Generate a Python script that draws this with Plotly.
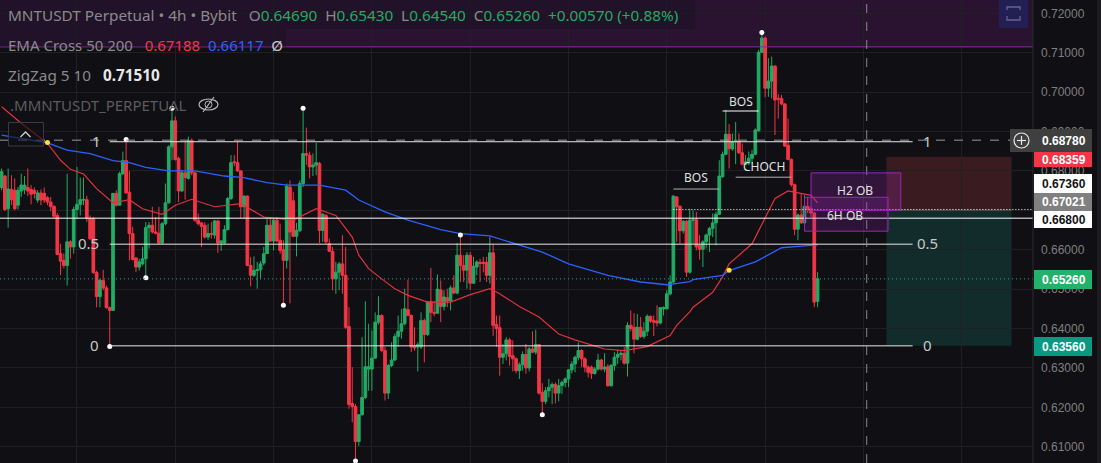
import plotly.graph_objects as go

opens = [
.6758,.6787,.6704,.6753,.6751,.6713,.6749,.6753,.6758,.6753,.6751,.6726,.6744,.6743,.6732,.6721,.6710,.6687,.6590,.6573,
.6560,.6620,.6607,.6702,.6715,.6726,.6727,.6679,.6679,.6542,.6481,.6522,.6503,.6453,.6446,.6743,.6713,.6793,.6826,.6746,
.6641,.6579,.6556,.6564,.6577,.6656,.6662,.6645,.6642,.6617,.6666,.6719,.6861,.6927,.6832,.6749,.6795,.6781,.6878,.6795,
.6675,.6668,.6662,.6632,.6641,.6637,.6673,.6617,.6617,.6651,.6730,.6823,.6821,.6800,.6709,.6736,.6560,.6535,.6547,.6549,
.6566,.6590,.6662,.6622,.6675,.6624,.6600,.6573,.6759,.6724,.6634,.6648,.6768,.6844,.6840,.6810,.6815,.6819,.6649,.6687,
.6615,.6596,.6526,.6543,.6564,.6535,
.6405,.6210,.6202,.6113,.6181,.6225,.6297,.6297,.6325,.6416,.6433,.6344,.6236,.6306,.6320,.6380,.6393,.6412,.6448,.6433,
.6356,.6353,.6353,.6420,.6385,.6468,.6441,.6439,.6498,.6456,.6478,.6470,.6503,.6490,.6586,.6560,.6548,.6586,.6515,.6556,
.6568,.6568,.6568,.6535,.6592,.6410,.6402,.6327,.6336,.6371,.6331,.6323,.6293,.6308,.6334,.6300,.6348,.6340,.6359,.6238,
.6215,.6242,.6251,.6258,.6236,.6255,.6263,.6272,.6295,.6310,.6327,.6344,.6323,.6302,.6302,.6286,.6297,.6320,.6297,.6303,
.6255,.6306,.6327,.6334,.6337,.6312,.6408,.6403,.6373,.6403,.6380,.6393,.6431,.6420,.6419,.6414,.6450,.6450,.6488,.6518,
.6734,.6710,.6648,.6672,.6543,.6675,.6676,.6611,.6601,.6620,.6637,.6654,.6668,.6690,.6785,.6842,.6893,.6856,.6874,.6874,
.6846,.6817,.6823,.6832,.6842,.6902,.7101,.7137,.7010,.7028,.7066,.6984,.6984,.6970,.6865,.6829,.6765,.6652,.6688,.6668,
.6710,.6704,.6693,.6469]
closes = [
.6798,.6702,.6754,.6727,.6704,.6751,.6764,.6764,.6749,.6741,.6743,.6744,.6726,.6726,.6721,.6709,.6685,.6588,.6571,.6560,
.6620,.6607,.6702,.6715,.6727,.6727,.6679,.6628,.6542,.6481,.6522,.6503,.6453,.6446,.6743,.6713,.6793,.6826,.6744,.6641,
.6575,.6556,.6569,.6577,.6656,.6662,.6645,.6642,.6617,.6666,.6719,.6861,.6927,.6829,.6749,.6795,.6783,.6877,.6795,.6675,
.6666,.6659,.6632,.6641,.6639,.6673,.6617,.6622,.6651,.6730,.6821,.6821,.6800,.6709,.6736,.6560,.6535,.6547,.6549,.6564,
.6590,.6662,.6622,.6675,.6622,.6598,.6573,.6761,.6645,.6634,.6649,.6768,.6844,.6840,.6810,.6815,.6821,.6649,.6690,.6620,
.6596,.6526,.6543,.6564,.6535,.6403,
.6207,.6202,.6113,.6181,.6225,.6303,.6303,.6325,.6416,.6433,.6344,.6236,.6306,.6320,.6380,.6393,.6412,.6450,.6433,.6353,
.6351,.6359,.6420,.6385,.6468,.6441,.6439,.6500,.6456,.6480,.6470,.6503,.6490,.6586,.6560,.6548,.6586,.6515,.6558,.6569,
.6565,.6565,.6535,.6592,.6408,.6400,.6327,.6336,.6371,.6329,.6323,.6293,.6308,.6334,.6300,.6348,.6340,.6359,.6236,.6215,
.6242,.6251,.6258,.6236,.6255,.6263,.6272,.6295,.6310,.6327,.6344,.6323,.6302,.6289,.6286,.6297,.6320,.6297,.6302,.6255,
.6306,.6327,.6334,.6337,.6312,.6408,.6400,.6373,.6403,.6380,.6393,.6431,.6419,.6416,.6414,.6453,.6453,.6488,.6518,.6736,
.6709,.6648,.6672,.6543,.6675,.6676,.6607,.6601,.6620,.6637,.6654,.6668,.6690,.6787,.6842,.6893,.6856,.6874,.6878,.6846,
.6817,.6823,.6832,.6842,.6904,.7101,.7137,.7010,.7028,.7066,.6980,.6982,.6970,.6863,.6829,.6765,.6652,.6688,.6668,.6710,
.6704,.6693,.6467,.6526]
highs = [
.6806,.6789,.6806,.6789,.6781,.6759,.6793,.6787,.6806,.6764,.6758,.6751,.6753,.6758,.6736,.6734,.6713,.6693,.6615,.6590,
.6793,.6624,.6709,.6810,.6783,.6783,.6737,.6687,.6683,.6547,.6526,.6549,.6509,.6456,.6744,.6751,.6798,.6849,.6880,.6800,
.6658,.6581,.6577,.6607,.6670,.6670,.6709,.6683,.6709,.6670,.6768,.6865,.6959,.6938,.6836,.6802,.6874,.6887,.6882,.6798,
.6692,.6670,.6670,.6666,.6670,.6676,.6676,.6625,.6662,.6734,.6840,.6840,.6874,.6802,.6738,.6738,.6581,.6583,.6569,.6571,
.6607,.6679,.6679,.6679,.6683,.6666,.6624,.6768,.6776,.6747,.6668,.6776,.6959,.6910,.6849,.6844,.6871,.6823,.6693,.6690,
.6628,.6607,.6569,.6569,.6637,.6607,
.6454,.6302,.6208,.6183,.6378,.6469,.6412,.6395,.6441,.6482,.6436,.6353,.6310,.6365,.6387,.6433,.6450,.6501,.6524,.6436,
.6403,.6365,.6441,.6425,.6470,.6554,.6470,.6537,.6522,.6497,.6501,.6509,.6535,.6617,.6637,.6586,.6594,.6594,.6582,.6573,
.6577,.6582,.6582,.6632,.6615,.6433,.6433,.6361,.6378,.6376,.6370,.6327,.6314,.6342,.6361,.6353,.6393,.6397,.6361,.6261,
.6251,.6272,.6263,.6263,.6272,.6268,.6276,.6297,.6317,.6331,.6365,.6348,.6327,.6306,.6306,.6302,.6336,.6323,.6337,.6310,
.6310,.6340,.6346,.6344,.6353,.6416,.6446,.6439,.6437,.6429,.6416,.6436,.6433,.6433,.6459,.6454,.6456,.6497,.6535,.6738,
.6736,.6713,.6675,.6675,.6704,.6700,.6696,.6637,.6624,.6641,.6658,.6692,.6696,.6827,.6849,.6955,.6919,.6895,.6924,.6895,
.6870,.6840,.6849,.6853,.6908,.7107,.7151,.7141,.7086,.7090,.7069,.6995,.6993,.6972,.6933,.6832,.6768,.6692,.6743,.6738,
.6734,.6709,.6696,.6543]
lows = [
.6751,.6698,.6656,.6713,.6700,.6702,.6734,.6741,.6736,.6715,.6730,.6719,.6713,.6719,.6713,.6698,.6681,.6586,.6535,.6552,
.6509,.6577,.6590,.6679,.6687,.6713,.6670,.6624,.6539,.6454,.6454,.6497,.6450,.6354,.6446,.6709,.6713,.6789,.6743,.6573,
.6573,.6543,.6547,.6560,.6529,.6603,.6641,.6639,.6614,.6614,.6662,.6717,.6827,.6826,.6721,.6747,.6727,.6778,.6789,.6670,
.6662,.6607,.6628,.6625,.6628,.6628,.6592,.6597,.6614,.6649,.6726,.6812,.6798,.6679,.6679,.6558,.6507,.6531,.6501,.6526,
.6560,.6590,.6620,.6598,.6620,.6590,.6459,.6552,.6464,.6632,.6583,.6645,.6759,.6815,.6781,.6787,.6789,.6617,.6620,.6615,
.6594,.6497,.6488,.6497,.6488,.6399,
.6196,.6162,.6064,.6102,.6179,.6221,.6242,.6242,.6323,.6410,.6340,.6217,.6221,.6302,.6317,.6353,.6374,.6408,.6431,.6340,
.6344,.6291,.6348,.6314,.6381,.6416,.6431,.6437,.6416,.6446,.6454,.6446,.6487,.6487,.6518,.6518,.6501,.6498,.6514,.6535,
.6518,.6543,.6518,.6514,.6381,.6353,.6280,.6310,.6319,.6306,.6291,.6286,.6272,.6293,.6285,.6291,.6337,.6334,.6232,.6181,
.6208,.6225,.6208,.6210,.6215,.6234,.6251,.6251,.6286,.6289,.6319,.6302,.6289,.6276,.6272,.6283,.6293,.6293,.6289,.6252,
.6252,.6293,.6310,.6319,.6308,.6278,.6393,.6337,.6370,.6376,.6374,.6381,.6414,.6381,.6405,.6410,.6433,.6448,.6484,.6514,
.6620,.6615,.6641,.6531,.6539,.6614,.6598,.6575,.6556,.6603,.6594,.6632,.6611,.6688,.6783,.6840,.6806,.6851,.6817,.6843,
.6814,.6815,.6815,.6819,.6840,.6899,.7099,.6987,.6988,.6984,.6891,.6933,.6967,.6861,.6827,.6760,.6637,.6624,.6666,.6666,
.6693,.6683,.6454,.6454]
assert len(opens) == len(closes) == len(highs) == len(lows) == 250, (len(opens), len(closes), len(highs), len(lows))
candle_index = list(range(len(opens)))

ema50_index = [0,6,14,18,21,25,29,34,39,43,49,53,58,65,73,80,89,96,102,107,109,112,116,120,124,130,137,143,149,152,158,164,170,175,184,190,197,204,206,210,211,217,220,222,229,231,233,236,240,244,247,249]
ema50_price = [.6963,.6921,.6870,.6827,.6804,.6792,.6755,.6719,.6727,.6704,.6690,.6713,.6728,.6709,.6717,.6683,.6675,.6704,.6687,.6632,.6586,.6552,.6526,.6501,.6484,.6467,.6467,.6486,.6501,.6488,.6456,.6429,.6386,.6371,.6348,.6344,.6354,.6382,.6408,.6442,.6454,.6492,.6531,.6564,.6615,.6649,.6683,.6730,.6749,.6743,.6738,.6719]
ema200_index = [0,6,14,20,27,34,39,44,51,59,68,74,81,87,97,105,107,109,117,124,134,140,149,156,165,173,185,195,203,210,211,220,222,230,238,244,249]
ema200_price = [.6891,.6882,.6871,.6853,.6844,.6826,.6821,.6809,.6800,.6800,.6787,.6783,.6770,.6764,.6764,.6751,.6738,.6726,.6696,.6675,.6651,.6641,.6635,.6617,.6594,.6564,.6535,.6518,.6511,.6519,.6524,.6535,.6547,.6569,.6605,.6609,.6612]
cross_index = [14, 222]
cross_price = [.6872, .6548]
zigzag_index = [33,38,44,52,86,92,108,140,165,232]
zigzag_price = [.6354,.6880,.6529,.6959,.6459,.6959,.6064,.6637,.6181,.7151]

tick_prices = [.72,.71,.70,.69,.68,.67,.66,.65,.64,.63,.62,.61]
tick_labels = [f"{p:.5f}" for p in tick_prices]
grid_index = [23,53,83,113,143,173,203,233,263,293]

W, H, PLOT_W = 1101, 463, 1033
X_PER = 3.277
X0 = 1.6
PY_PER = 3940.0
PY0 = 13.3
BG = "#0f0f14"
UP = "#22ab64"
DOWN = "#f23645"

def px(x): return x / PLOT_W
def py(y): return 1 - y / H

fig = go.Figure()
fig.add_trace(go.Candlestick(x=candle_index, open=opens, high=highs, low=lows, close=closes,
    increasing=dict(line=dict(color=UP, width=1), fillcolor=UP),
    decreasing=dict(line=dict(color=DOWN, width=1), fillcolor=DOWN),
    whiskerwidth=0, hoverinfo="skip", showlegend=False))
fig.add_trace(go.Scatter(x=ema50_index, y=ema50_price, mode="lines", line=dict(color="#e0323f", width=1.2), hoverinfo="skip", showlegend=False))
fig.add_trace(go.Scatter(x=ema200_index, y=ema200_price, mode="lines", line=dict(color="#2962ff", width=1.3), hoverinfo="skip", showlegend=False))
fig.add_trace(go.Scatter(x=cross_index, y=cross_price, mode="markers", marker=dict(color="#ffe033", size=5), hoverinfo="skip", showlegend=False))
fig.add_trace(go.Scatter(x=zigzag_index, y=zigzag_price, mode="markers", marker=dict(color="#ffffff", size=5), hoverinfo="skip", showlegend=False))

shapes = []
def rect(x0, x1, y0, y1, fill, line=None, lw=1, layer="above", xref="x", yref="y"):
    shapes.append(dict(type="rect", x0=x0, x1=x1, y0=y0, y1=y1, xref=xref, yref=yref, layer=layer,
                       fillcolor=fill, line=dict(color=line or "rgba(0,0,0,0)", width=lw if line else 0)))
def hline(x0, x1, y, color="#ffffff", lw=1, dash="solid", xref="x"):
    shapes.append(dict(type="line", x0=x0, x1=x1, y0=y, y1=y, xref=xref, yref="y", line=dict(color=color, width=lw, dash=dash)))

# top zone and position tool
rect(0, 1, .71148, .7234, "rgba(156,39,176,0.19)", xref="paper", layer="below")
hline(0, 1, .71148, "#8e2a9e", 1, xref="paper")
rect(270, 308.2, .6700, .68359, "#3a1b20", layer="below")
rect(270, 308.2, .6356, .6700, "#122c2b", layer="below")
hline(270, 308.2, .6700, "#4d5a58", 1)

# levels
hline(0, 1, .6878, "#9a9a9a", 1, "dash", xref="paper")
hline(33, 278, .6874, "#e8e8e8", 1)
hline(33, 278, .6614, "#e8e8e8", 1)
hline(33, 278, .6356, "#e8e8e8", 1)
hline(0, 1, .6680, "#ffffff", 1, xref="paper")
hline(205, 314.7, .67021, "#ffffff", 1, "1px,2px")
hline(0, 1, .6526, "#22ab94", 1, "1px,3px", xref="paper")
shapes.append(dict(type="line", x0=264, x1=264, y0=0, y1=1, xref="x", yref="paper", line=dict(color="#8a8a8a", width=1, dash="dash")))

# structure lines
hline(205, 219, .6754, "#b0b0b0", 1)
hline(220, 231, .6952, "#ffffff", 1)
hline(224, 241, .6784, "#b0b0b0", 1)

# order blocks
rect(245, 270.5, .6647, .6733, "rgba(156,39,176,0.22)", "#9c27b0", 1)
rect(247, 274.4, .6700, .6795, "rgba(156,39,176,0.25)", "#9c27b0", 1)

# legend backdrops
rect(px(0), px(695), py(29), py(0), "rgba(15,15,20,0.25)", xref="paper", yref="paper")
rect(px(0), px(286), py(47), py(29), "rgba(15,15,20,0.25)", xref="paper", yref="paper")

# right axis line and right edge
shapes.append(dict(type="line", x0=1, x1=1, y0=0, y1=1, xref="paper", yref="paper", line=dict(color="#2a2a2e", width=1)))
rect(px(1097), px(1101), 0, 1, "#1c1c20", xref="paper", yref="paper")

# UI widgets
shapes.append(dict(type="rect", x0=px(8.5), x1=px(43.5), y0=py(146), y1=py(122.5), xref="paper", yref="paper",
                   fillcolor="rgba(15,15,20,0.6)", line=dict(color="#3a3a3e", width=1)))
shapes.append(dict(type="path", xref="paper", yref="paper", line=dict(color="#d0d0d0", width=1.3),
                   path=f"M {px(20.5)} {py(137)} L {px(25.5)} {py(132)} L {px(30.5)} {py(137)}"))
rect(px(999), px(1028), py(28), py(0), "#221f55", xref="paper", yref="paper")
shapes.append(dict(type="path", xref="paper", yref="paper", line=dict(color="#6a6390", width=1.3),
                   path=f"M {px(1007)} {py(10)} L {px(1007)} {py(7)} L {px(1020)} {py(7)} L {px(1020)} {py(10)} M {px(1007)} {py(16)} L {px(1007)} {py(20)} L {px(1020)} {py(20)} L {px(1020)} {py(16)}"))
# eye
shapes.append(dict(type="circle", x0=px(199), x1=px(218), y0=py(110), y1=py(99), xref="paper", yref="paper", line=dict(color="#b8b8b8", width=1.2)))
shapes.append(dict(type="circle", x0=px(205), x1=px(212), y0=py(108), y1=py(101), xref="paper", yref="paper", line=dict(color="#b8b8b8", width=1)))
shapes.append(dict(type="line", x0=px(203), x1=px(214), y0=py(112), y1=py(97), xref="paper", yref="paper", line=dict(color="#b8b8b8", width=1.2)))

# price tags
tags = [("0.68780", 129, 152, "#3f3f3f", "#ffffff"), ("0.68359", 152, 167, DOWN, "#ffffff"),
        ("0.67360", 174, 193, "#ffffff", "#131313"), ("0.67021", 193, 211, "#808080", "#ffffff"),
        ("0.66800", 211, 228, "#ffffff", "#131313"), ("0.65260", 270, 289, "#22b26c", "#ffffff"),
        ("0.63560", 337, 356, "#089981", "#ffffff")]
rect(px(1010), px(1034), py(152), py(129), "#3f3f3f", xref="paper", yref="paper")
shapes.append(dict(type="circle", x0=px(1014), x1=px(1029), y0=py(148), y1=py(133), xref="paper", yref="paper", line=dict(color="#e8e8e8", width=1.2)))
shapes.append(dict(type="line", x0=px(1017), x1=px(1026), y0=py(140.5), y1=py(140.5), xref="paper", yref="paper", line=dict(color="#e8e8e8", width=1.2)))
shapes.append(dict(type="line", x0=px(1021.5), x1=px(1021.5), y0=py(136), y1=py(145), xref="paper", yref="paper", line=dict(color="#e8e8e8", width=1.2)))
for _, y0, y1, c, _t in tags:
    rect(px(1034), px(1092), py(y1), py(y0), c, xref="paper", yref="paper")

annotations = []
def label(x, y, text, color="#d8d8d8", size=12, xref="x", yref="y", anchor="center", family="Noto Sans"):
    annotations.append(dict(x=x, y=y, xref=xref, yref=yref, text=text, showarrow=False, xanchor=anchor, yanchor="middle",
                            font=dict(color=color, size=size, family=family)))

for xi, t in [(29, "1"), (26.5, "0.5"), (28.2, "0"), (282.6, "1"), (282.6, "0.5"), (282.6, "0")]:
    yv = {"1": .6876, "0.5": .6616, "0": .6357}[t]
    label(xi, yv, t, "#c8c8c8", 15)
label(212, .6782, "BOS", "#e0e0e0", 12)
label(225.6, .6977, "BOS", "#e0e0e0", 12)
label(232.6, .6810, "CHOCH", "#e0e0e0", 12)
label(260.4, .6749, "H2 OB", "#e0e0e0", 12)
label(257.3, .6686, "6H OB", "#e0e0e0", 12)

G = "#22ab64"
NB = "&nbsp;"
label(px(6), py(15), f'MNTUSDT Perpetual • 4h • Bybit{NB}{NB}{NB}O<span style="color:{G}">0.64690</span>{NB}{NB}H<span style="color:{G}">0.65430</span>{NB}{NB}L<span style="color:{G}">0.64540</span>{NB}{NB}C<span style="color:{G}">0.65260</span>{NB}{NB}<span style="color:{G}">+0.00570 (+0.88%)</span>',
      "#8a8a8a", 15.3, "paper", "paper", "left")
label(px(6), py(45), f'EMA Cross 50 200{NB}{NB}{NB}<span style="color:#f23645">0.67188</span>{NB}{NB}<span style="color:#2962ff">0.66117</span>{NB}{NB}<span style="color:#c8c8c8">Ø</span>', "#8a8a8a", 15, "paper", "paper", "left")
label(px(6), py(75), f'ZigZag 5 10{NB}{NB}{NB}<span style="color:#e8e8e8"><b>0.71510</b></span>', "#8a8a8a", 15.3, "paper", "paper", "left")
label(px(8), py(105), '.MMNTUSDT_PERPETUAL', "#5c5c5c", 15, "paper", "paper", "left")
for t, y0, y1, c, tc in tags:
    label(px(1064), py((y0 + y1) / 2), f"<b>{t}</b>", tc, 12, "paper", "paper", "center", "Liberation Sans")

fig.update_layout(
    width=W, height=H, margin=dict(l=0, r=W - PLOT_W, t=0, b=0), boxgap=0.18, boxgroupgap=0,
    paper_bgcolor=BG, plot_bgcolor=BG, showlegend=False, shapes=shapes, annotations=annotations,
    xaxis=dict(range=[-X0 / X_PER, (PLOT_W - X0) / X_PER], rangeslider=dict(visible=False), showticklabels=False,
               tickvals=grid_index, showgrid=True, gridcolor="#1f1f24", gridwidth=1, zeroline=False, ticks=""),
    yaxis=dict(range=[.72 - (H - PY0) / PY_PER, .72 + PY0 / PY_PER], side="right", tickvals=tick_prices, ticktext=tick_labels,
               showgrid=True, gridcolor="#1f1f24", gridwidth=1, zeroline=False, ticks="", ticklabelstandoff=7,
               tickfont=dict(color="#7f7f7f", size=12, family="Liberation Sans")),
)
fig.write_html("out.html", post_script="document.body.style.margin='0';document.body.style.background='#0f0f14';window.dispatchEvent(new Event('resize'));", config=dict(displayModeBar=False))
